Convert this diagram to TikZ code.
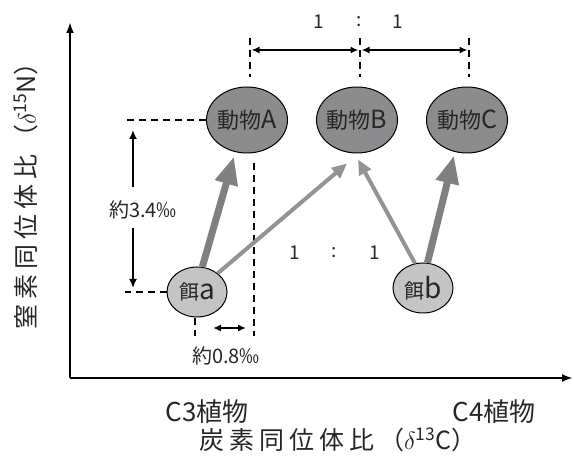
\documentclass[tikz,border=0pt]{standalone}
\usepackage{fontspec}
\setmainfont{Noto Sans CJK JP}
\usetikzlibrary{arrows.meta,shapes.geometric,calc}
\definecolor{animalgray}{HTML}{8C8C8E}
\definecolor{feedgray}{HTML}{C4C4C4}
\definecolor{thickgray}{HTML}{808080}
\definecolor{thingray}{HTML}{939393}
\definecolor{txt}{HTML}{262626}
\newcommand{\ks}{\hspace{5pt}}
\begin{document}
\begin{tikzpicture}[x=1pt,y=-1pt,
  every node/.style={text=txt},
  animal/.style={ellipse,draw=black,line width=1pt,fill=animalgray,minimum width=81pt,minimum height=66pt,inner sep=0pt},
  feed/.style={ellipse,draw=black,line width=1pt,fill=feedgray,minimum width=60pt,minimum height=50pt,inner sep=0pt},
  axisline/.style={line width=2.2pt,-{Latex[length=11pt,width=8pt]}},
  dsh/.style={line width=1.6pt,dash pattern=on 7pt off 5pt},
  dimarrow/.style={line width=1.6pt,{Latex[length=8pt,width=7pt]}-{Latex[length=8pt,width=7pt]}},
  uparrow/.style={line width=1.8pt,-{Latex[length=9pt,width=8pt]}},
  thickarr/.style={draw=thickgray,line width=7pt,-{Triangle[length=28pt,width=22pt]}},
  thinarr/.style={draw=thingray,line width=4pt,-{Triangle[length=15pt,width=13pt]}},
  ratio/.style={font=\fontsize{19}{19}\selectfont},
  small/.style={font=\fontsize{20}{20}\selectfont},
  axlabel/.style={font=\fontsize{25}{25}\selectfont},
]
\useasboundingbox (0,0) rectangle (574,457);

% axes
\coordinate (O) at (70,378);
\coordinate (Ytop) at (70,22);
\coordinate (Xend) at (573,378);
\draw[axisline] (O) -- (Ytop);
\draw[axisline] (O) -- (Xend);

% nodes
\node[animal] (A) at (247,120) {\makebox[0pt][c]{\fontsize{22}{22}\selectfont 動物\fontsize{25}{25}\selectfont A}};
\node[animal] (B) at (357,120) {\makebox[0pt][c]{\fontsize{22}{22}\selectfont 動物\fontsize{25}{25}\selectfont B}};
\node[animal] (C) at (467,120) {\makebox[0pt][c]{\fontsize{22}{22}\selectfont 動物\fontsize{25}{25}\selectfont C}};
\node[feed] (fa) at (197,292) {\makebox[0pt][c]{\fontsize{20}{20}\selectfont 餌\fontsize{28}{28}\selectfont a}};
\node[feed] (fb) at (423,288) {\makebox[0pt][c]{\fontsize{20}{20}\selectfont 餌\fontsize{28}{28}\selectfont b}};

% dashed guide lines
\coordinate (gx) at (125,0);
\draw[dsh] (A.west) -- (A.west -| gx);
\draw[dsh] (fa.west) -- (fa.west -| gx);
\coordinate (tA1) at (250,38);
\coordinate (tA2) at (250,77);
\coordinate (bA1) at (254,163);
\coordinate (bA2) at (254,336);
\coordinate (tB1) at (360,38);
\coordinate (tB2) at (360,77);
\coordinate (tC1) at (469,38);
\coordinate (tC2) at (469,77);
\draw[dsh] (tA1) -- (tA2);
\draw[dsh] (bA1) -- (bA2);
\draw[dsh] (tB1) -- (tB2);
\draw[dsh] (tC1) -- (tC2);
\coordinate (fa1) at (195,318);
\coordinate (fa2) at (195,336);
\draw[dsh] (fa1) -- (fa2);

% dimension arrows
\draw[dimarrow] ($(tA1)+(1.5,12)$) -- ($(tB1)+(-1.5,12)$);
\draw[dimarrow] ($(tB1)+(1.5,12)$) -- ($(tC1)+(-1.5,12)$);
\coordinate (d1) at (213,328);
\coordinate (d2) at (246,328);
\draw[dimarrow] (d1) -- (d2);

% 3.4 label and vertical arrows
\node[small] (n34) at (143,210) {約3.4‰};
\coordinate (u1) at (133,187);
\coordinate (u2) at (133,130);
\coordinate (w1) at (133,228);
\coordinate (w2) at (133,288);
\draw[uparrow] (u1) -- (u2);
\draw[uparrow] (w1) -- (w2);
\node[small] (n08) at (226,356) {約0.8‰};

% ratio labels
\node[ratio] (r1) at (319,22) {1};
\node[ratio] (r2) at (359,22) {:};
\node[ratio] (r3) at (398,22) {1};
\node[ratio] (m1) at (295,253) {1};
\node[ratio] (m2) at (334,253) {:};
\node[ratio] (m3) at (375,253) {1};

% feeding arrows
\draw[thinarr] (fa.42) -- ([xshift=-10pt,yshift=-10pt]B.south);
\draw[thinarr] (fb.108) -- ([xshift=1pt,yshift=-6pt]B.south);
\draw[thickarr] (fa.78) -- ([xshift=-13pt,yshift=-3pt]A.south);
\draw[thickarr] (fb.80) -- ([xshift=-13pt,yshift=-2pt]C.south);

% axis labels
\node[axlabel,font=\fontsize{26}{26}\selectfont] (c3) at (207,412) {C3植物};
\node[axlabel,font=\fontsize{26}{26}\selectfont] (c4) at (494,412) {C4植物};
\node[axlabel] (xl) at (338,440) {炭\ks 素\ks 同\ks 位\ks 体\ks 比\ks （$\delta$\textsuperscript{13}C）};
\node[axlabel,rotate=90] (yl) at (26,190) {窒\ks 素\ks 同\ks 位\ks 体\ks 比\ks （$\delta$\textsuperscript{15}N）};
\end{tikzpicture}
\end{document}
